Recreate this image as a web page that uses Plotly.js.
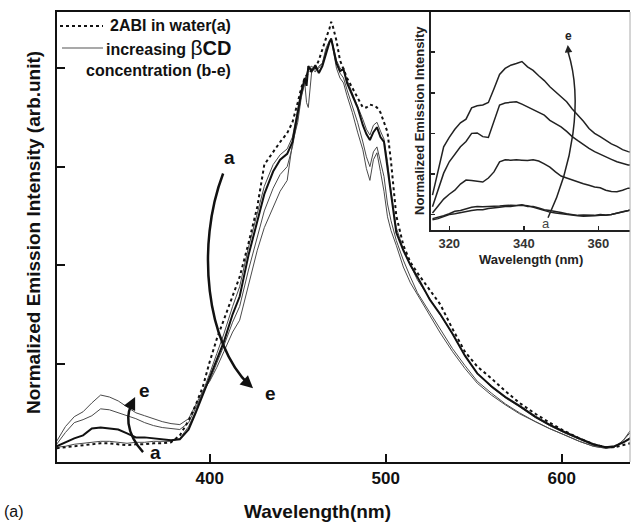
<!DOCTYPE html>
<html><head><meta charset="utf-8">
<script src="https://cdn.plot.ly/plotly-3.0.1.min.js"></script>
<style>html,body{margin:0;padding:0;background:#fff}#chart{width:632px;height:524px}</style>
</head><body><div id="chart"></div>
<script>
// Main spectrum (wavelength, nm)
const wavelength = [313,318,323,328,333,338,343,348,353,358,363,368,373,378,383,388,392,396,400,404,408,413,417,422,427,431,436,440,444,447,450,452,454,455,456,458,460,462,464,466,468,469,470,472,474,476,478,481,484,487,489,491,493,495,497,499,501,503,506,510,514,518,525,531,538,545,552,560,568,576,585,593,601,610,618,625,630,635,639];
const seriesA = [0.14,0.15,0.16,0.17,0.18,0.19,0.19,0.18,0.17,0.18,
0.18,0.19,0.19,0.20,0.27,0.42,0.58,0.76,1.02,1.25,
1.45,1.68,1.88,2.22,2.59,3.02,3.15,3.25,3.34,3.45,
3.65,3.80,3.90,3.93,3.95,3.98,4.00,4.08,4.20,4.30,
4.40,4.47,4.42,4.28,4.08,3.98,3.90,3.80,3.70,3.60,
3.60,3.63,3.62,3.60,3.55,3.45,3.35,3.05,2.50,2.20,
2.03,1.92,1.75,1.60,1.35,1.12,0.97,0.85,0.72,0.60,
0.49,0.40,0.32,0.24,0.18,0.15,0.15,0.17,0.19];
const seriesB = [0.15,0.16,0.18,0.19,0.20,0.21,0.21,0.20,0.19,0.20,
0.20,0.21,0.21,0.21,0.24,0.36,0.52,0.70,0.90,1.10,
1.30,1.58,1.78,2.18,2.52,2.80,3.02,3.12,3.18,3.30,
3.58,3.78,3.88,3.95,4.00,4.02,3.98,4.00,4.05,4.17,
4.27,4.30,4.24,4.08,4.00,3.97,3.88,3.75,3.62,3.48,
3.38,3.32,3.42,3.45,3.36,3.28,3.05,2.75,2.38,2.16,
2.00,1.85,1.66,1.50,1.30,1.08,0.90,0.76,0.65,0.56,
0.45,0.37,0.30,0.23,0.17,0.15,0.16,0.20,0.25];
const seriesC = [0.16,0.20,0.24,0.27,0.34,0.35,0.34,0.33,0.29,0.25,
0.25,0.24,0.23,0.22,0.23,0.33,0.50,0.68,0.85,1.03,
1.22,1.50,1.68,2.10,2.45,2.72,2.95,3.07,3.13,3.25,
3.55,3.75,3.90,3.82,4.02,3.97,4.03,3.95,4.02,4.15,
4.26,4.30,4.22,4.05,3.97,3.99,3.85,3.72,3.60,3.42,
3.33,3.27,3.35,3.40,3.30,3.25,2.98,2.70,2.33,2.15,
2.00,1.88,1.65,1.50,1.30,1.08,0.90,0.77,0.66,0.57,
0.46,0.38,0.31,0.24,0.18,0.15,0.16,0.20,0.24];
const seriesD = [0.18,0.30,0.40,0.43,0.47,0.54,0.53,0.50,0.47,0.44,
0.40,0.37,0.35,0.34,0.33,0.40,0.55,0.70,0.83,1.00,
1.18,1.42,1.58,1.95,2.30,2.55,2.78,2.92,3.00,3.20,
3.50,3.72,3.85,3.90,3.98,4.00,3.96,4.02,4.05,4.20,
4.28,4.30,4.22,4.05,3.95,3.90,3.78,3.62,3.45,3.25,
3.10,3.00,3.15,3.20,3.05,2.90,2.62,2.45,2.25,2.05,
1.88,1.72,1.52,1.35,1.15,0.98,0.82,0.70,0.59,0.50,
0.41,0.34,0.28,0.21,0.16,0.14,0.15,0.22,0.30];
const seriesE = [0.21,0.36,0.46,0.51,0.60,0.68,0.66,0.62,0.56,0.50,
0.47,0.44,0.41,0.39,0.38,0.44,0.58,0.72,0.82,0.96,
1.12,1.32,1.44,1.80,2.15,2.38,2.59,2.75,2.86,3.24,
3.45,3.70,3.85,3.65,3.60,3.98,4.00,3.96,4.03,4.18,
4.27,4.30,4.20,4.00,3.90,3.85,3.72,3.55,3.35,3.17,
2.98,2.86,3.07,3.14,2.95,2.75,2.49,2.35,2.20,1.98,
1.82,1.70,1.48,1.31,1.12,0.95,0.80,0.68,0.58,0.49,
0.41,0.34,0.28,0.21,0.16,0.14,0.15,0.22,0.32];

// Inset (wavelength, nm)
const insetWavelength = [315.5,317,318.5,320,321.5,323,324.5,326,327.5,329,330.5,332,333.5,335,336.5,338,339.5,341,342.5,344,345.5,347,348.5,350,351.5,353,354.5,356,357.5,359,360.5,362,363.5,365,366.5,368,368.8];
const insetA = [0.87,0.90,0.95,1.00,1.02,1.05,1.08,1.10,1.12,1.12,1.15,1.16,1.18,1.20,1.20,1.22,1.24,1.20,1.20,1.16,1.12,1.10,1.08,1.05,1.02,1.00,0.98,0.99,0.98,0.98,1.00,0.99,1.00,1.03,1.06,1.10,1.11];
const insetB = [0.90,0.93,0.97,1.02,1.08,1.10,1.14,1.18,1.20,1.19,1.20,1.20,1.21,1.22,1.23,1.22,1.23,1.22,1.18,1.14,1.10,1.06,1.04,1.02,1.00,0.98,0.97,0.96,0.96,0.97,0.98,0.98,1.00,1.04,1.07,1.10,1.12];
const insetC = [1.04,1.20,1.38,1.50,1.60,1.75,1.85,1.84,1.82,1.80,1.90,2.05,2.30,2.35,2.34,2.35,2.34,2.33,2.35,2.32,2.25,2.17,2.05,1.95,1.90,1.85,1.80,1.76,1.72,1.68,1.66,1.60,1.57,1.56,1.60,1.65,1.65];
const insetD = [1.19,1.60,2.02,2.30,2.50,2.67,2.80,3.00,3.01,2.92,2.90,3.30,3.70,3.75,3.76,3.78,3.72,3.65,3.60,3.52,3.45,3.32,3.24,3.16,3.05,2.92,2.82,2.72,2.63,2.55,2.48,2.42,2.36,2.30,2.26,2.22,2.22];
const insetE = [1.48,2.10,2.67,2.90,3.10,3.26,3.35,3.63,3.68,3.70,3.76,4.10,4.45,4.60,4.68,4.72,4.77,4.64,4.55,4.42,4.30,4.15,4.02,3.90,3.78,3.60,3.45,3.30,3.12,3.00,2.92,2.82,2.74,2.68,2.60,2.55,2.54];

const mainTicks = [400,500,600];
const mainTickLabels = ['400','500','600'];
const insetTicks = [320,340,360];
const insetTickLabels = ['320','340','360'];

const FONT = 'Liberation Sans, Arial, Helvetica, sans-serif';
const thin = {color:'#4a4a4a', width:1};
const traces = [
  {x:wavelength, y:seriesB, mode:'lines', line:thin},
  {x:wavelength, y:seriesD, mode:'lines', line:thin},
  {x:wavelength, y:seriesE, mode:'lines', line:thin},
  {x:wavelength, y:seriesC, mode:'lines', line:{color:'#111', width:2}},
  {x:wavelength, y:seriesA, mode:'lines', line:{color:'#111', width:2, dash:'dot'}},
];
[insetA, insetB, insetC, insetD, insetE].forEach(s => traces.push(
  {x:insetWavelength, y:s, xaxis:'x2', yaxis:'y2', mode:'lines', line:{color:'#222', width:1.5}}));

const P = (px) => (px-57)/573, Q = (py) => (462-py)/450;
const txt = (px, py, text, size, extra) => Object.assign(
  {xref:'paper', yref:'paper', x:P(px), y:Q(py), text:text, showarrow:false, xanchor:'center', yanchor:'middle', font:{size:size}}, extra || {});

const layout = {
  width:632, height:524, margin:{l:57, r:2, t:12, b:62},
  paper_bgcolor:'#fff', plot_bgcolor:'rgba(0,0,0,0)', showlegend:false,
  font:{family:FONT, color:'#111'},
  xaxis:{domain:[0,1], range:[313.2,638.8], tickvals:mainTicks, ticktext:mainTickLabels.map(t=>'<b>'+t+'</b>'),
    ticks:'inside', ticklen:8, tickwidth:2, tickcolor:'#111', showline:true, linewidth:2, linecolor:'#111', mirror:true,
    showgrid:false, zeroline:false, tickfont:{size:17, color:'#111'}},
  yaxis:{domain:[0,1], range:[0,4.57], tickvals:[1,2,3,4], showticklabels:false,
    ticks:'inside', ticklen:8, tickwidth:2, tickcolor:'#111', showline:true, linewidth:2, linecolor:'#111',
    showgrid:false, zeroline:false},
  xaxis2:{domain:[0.6527,1], anchor:'y2', range:[315.1,368.5], tickvals:insetTicks, ticktext:insetTickLabels.map(t=>'<b>'+t+'</b>'),
    ticks:'inside', ticklen:4, tickwidth:1.5, tickcolor:'#222', showline:true, linewidth:2, linecolor:'#222',
    showgrid:false, zeroline:false, tickfont:{size:13, color:'#333'}},
  yaxis2:{domain:[0.5156,1], anchor:'x2', range:[0.62,5.99], tickvals:[1,2,3,4,5], showticklabels:false,
    ticks:'inside', ticklen:4, tickwidth:1.5, tickcolor:'#222', showline:true, linewidth:2, linecolor:'#222',
    showgrid:false, zeroline:false},
  shapes:[
    {type:'line', xref:'paper', yref:'paper', x0:1, x1:1, y0:0, y1:1, line:{color:'#aaa', width:1}},
    {type:'line', xref:'paper', yref:'paper', x0:P(60), x1:P(103), y0:Q(26), y1:Q(26), line:{color:'#111', width:2, dash:'dot'}},
    {type:'line', xref:'paper', yref:'paper', x0:P(62), x1:P(103), y0:Q(48), y1:Q(48), line:{color:'#555', width:1.2}},
    {type:'path', xref:'x', yref:'y', path:'M 407.6,2.93 C 392,2.2 398,1.2 422.5,0.78', line:{color:'#111', width:2.5}},
    {type:'path', xref:'x', yref:'y', path:'M 362.1,0.10 C 352,0.3 352,0.5 356.8,0.62', line:{color:'#111', width:2.5}},
    {type:'path', xref:'x2', yref:'y2', path:'M 346.5,0.92 C 353,2.2 356,3.8 351.9,5.0', line:{color:'#222', width:1.5}},
  ],
  annotations:[
    txt(33, 233, '<b>Normalized Emission Intensity (arb.unit)</b>', 19, {textangle:-90}),
    txt(317.5, 511.7, '<b>Wavelength(nm)</b>', 19),
    txt(14, 511.7, '(a)', 16),
    txt(419, 121, '<b>Normalized Emission Intensity</b>', 13, {textangle:-90, font:{size:13, color:'#222'}}),
    txt(530.5, 259, '<b>Wavelength (nm)</b>', 13, {font:{size:13, color:'#222'}}),
    txt(233, 26, '<b>2ABI in water(a)</b>', 16, {xanchor:'right'}),
    txt(233, 48, '<b>increasing </b><span style="font-size:21px">β</span><b><span style="font-size:20px">CD</span></b>', 16, {xanchor:'right'}),
    txt(233, 70, '<b>concentration (b-e)</b>', 16, {xanchor:'right'}),
    {xref:'x', yref:'y', x:411.5, y:3.09, text:'<b>a</b>', showarrow:false, font:{size:19}},
    {xref:'x', yref:'y', x:434.3, y:0.70, text:'<b>e</b>', showarrow:false, font:{size:19}},
    {xref:'x', yref:'y', x:363.2, y:0.73, text:'<b>e</b>', showarrow:false, font:{size:19}},
    {xref:'x', yref:'y', x:369.0, y:0.10, text:'<b>a</b>', showarrow:false, font:{size:19}},
    {xref:'x', yref:'y', x:424.6, y:0.75, ax:-10, ay:-9, text:'', showarrow:true, arrowhead:2, arrowsize:1, arrowwidth:2.5, arrowcolor:'#111', standoff:0},
    {xref:'x', yref:'y', x:357.6, y:0.66, ax:-5, ay:10, text:'', showarrow:true, arrowhead:2, arrowsize:1, arrowwidth:2.5, arrowcolor:'#111', standoff:0},
    {xref:'x2', yref:'y2', x:351.8, y:5.18, ax:1, ay:10, text:'', showarrow:true, arrowhead:2, arrowsize:1, arrowwidth:1.5, arrowcolor:'#222', standoff:0},
    {xref:'x2', yref:'y2', x:352.1, y:5.40, text:'<b>e</b>', showarrow:false, font:{size:12, color:'#222'}},
    {xref:'x2', yref:'y2', x:345.9, y:0.78, text:'a', showarrow:false, font:{size:13, color:'#444'}},
  ]
};
Plotly.newPlot('chart', traces, layout, {displayModeBar:false, staticPlot:true});
</script></body></html>
